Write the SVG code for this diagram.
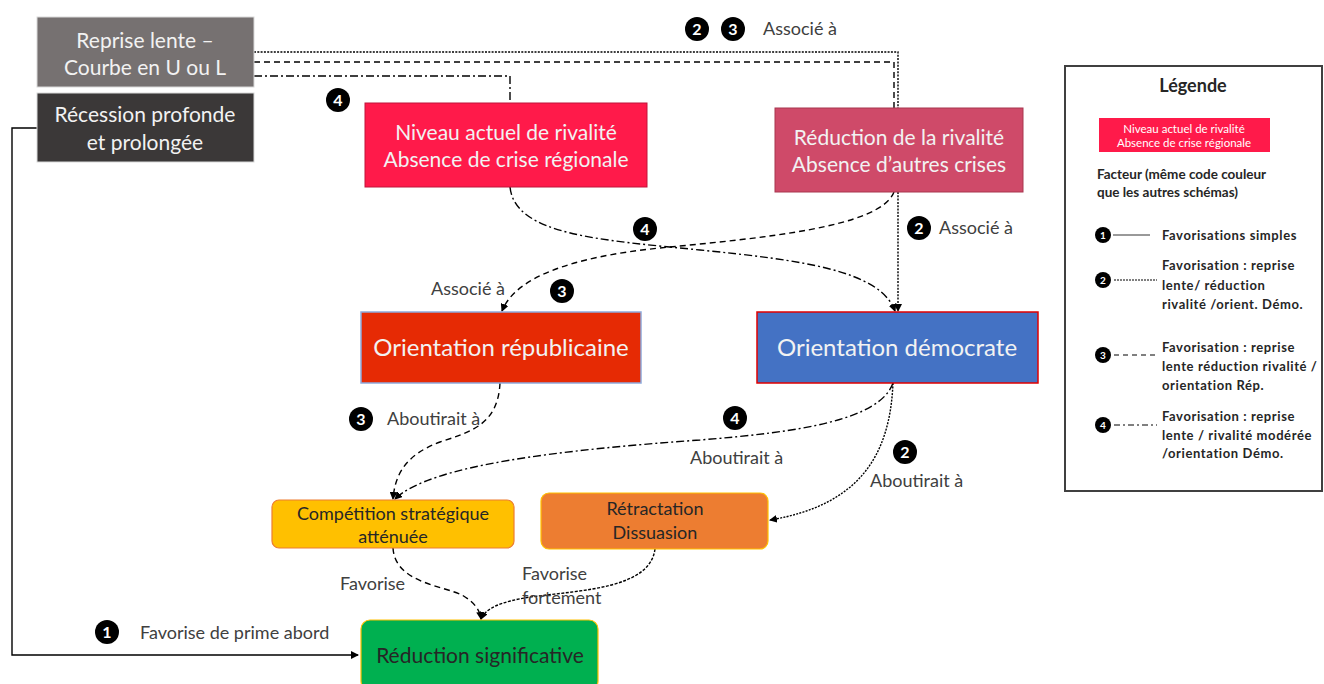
<svg xmlns="http://www.w3.org/2000/svg" width="1324" height="684" viewBox="0 0 1324 684">
<defs>
<marker id="arr" markerWidth="8" markerHeight="8" refX="7" refY="4" orient="auto" markerUnits="userSpaceOnUse">
<path d="M0,0 L8,4 L0,8 z" fill="#000"/>
</marker>
<style>
text{font-family:Lato,"Open Sans","Liberation Sans",sans-serif}
.nt{font-size:21px;fill:#f2f2f2;text-anchor:middle}
.dt{font-size:18px;fill:#262626;text-anchor:middle}
.lb{font-size:18px;fill:#404040}
.bd{font-size:16px;font-weight:bold;fill:#fff;text-anchor:middle}
.lg{font-size:13px;font-weight:bold;fill:#262626;letter-spacing:0.6px}
.lc{font-size:10px;font-weight:bold;fill:#fff;text-anchor:middle}
.c{stroke:#000;stroke-width:1.4;fill:none}
.t2{stroke-dasharray:2 1.3}
.t3{stroke-dasharray:6 4}
.t4{stroke-dasharray:8 3 2 3}
</style>
</defs>
<rect width="1324" height="684" fill="#fff"/>

<g id="connectors">
<path class="c" d="M37,128 H12 V655 H358" marker-end="url(#arr)"/>
<path class="c t2" d="M254,52 H898 V108"/>
<path class="c t3" d="M254,62 H894 V108"/>
<path class="c t4" d="M254,76 H510 V103"/>
<path class="c t4" d="M510,187 C515,235 600,240 700,250 C800,260 880,270 895,311" marker-end="url(#arr)"/>
<path class="c t3" d="M894,192 C880,228 760,238 660,248 C570,257 515,278 502,311" marker-end="url(#arr)"/>
<path class="c t2" d="M898,192 V311" marker-end="url(#arr)"/>
<path class="c t3" d="M500,383 C498,425 470,432 440,442 C405,455 395,475 393,499" marker-end="url(#arr)"/>
<path class="c t4" d="M893,383 C880,420 800,432 700,440 C560,450 430,465 395,499" marker-end="url(#arr)"/>
<path class="c t2" d="M893,383 C890,455 860,505 770,520" marker-end="url(#arr)"/>
<path class="c t3" d="M393,548 C395,582 440,585 462,595 C474,602 480,610 481,619" marker-end="url(#arr)"/>
<path class="c" style="stroke-dasharray:3 1.5" d="M655,549 C650,588 585,590 530,597 C500,602 486,608 481,619" marker-end="url(#arr)"/>
</g>

<g id="labels">
<circle cx="697" cy="29" r="12" fill="#000"/><text class="bd" x="697" y="35">2</text>
<circle cx="733" cy="29" r="12" fill="#000"/><text class="bd" x="733" y="35">3</text>
<text class="lb" x="763" y="35">Associé à</text>
<circle cx="338" cy="100" r="12" fill="#000"/><text class="bd" x="338" y="106">4</text>
<circle cx="645" cy="229" r="12" fill="#000"/><text class="bd" x="645" y="235">4</text>
<circle cx="919" cy="228" r="12" fill="#000"/><text class="bd" x="919" y="234">2</text>
<text class="lb" x="939" y="234">Associé à</text>
<circle cx="562" cy="291" r="12" fill="#000"/><text class="bd" x="562" y="297">3</text>
<text class="lb" x="431" y="295">Associé à</text>
<circle cx="361" cy="419" r="12" fill="#000"/><text class="bd" x="361" y="425">3</text>
<text class="lb" x="387" y="425">Aboutirait à</text>
<circle cx="735" cy="418" r="12" fill="#000"/><text class="bd" x="735" y="424">4</text>
<text class="lb" x="690" y="464">Aboutirait à</text>
<circle cx="905" cy="452" r="12" fill="#000"/><text class="bd" x="905" y="458">2</text>
<text class="lb" x="870" y="487">Aboutirait à</text>
<text class="lb" x="340" y="590">Favorise</text>
<text class="lb" x="522" y="580">Favorise</text>
<text class="lb" x="522" y="604">fortement</text>
<circle cx="107" cy="632" r="12" fill="#000"/><text class="bd" x="107" y="638">1</text>
<text class="lb" x="140" y="639">Favorise de prime abord</text>
</g>

<g id="reprise">
<rect x="37" y="17" width="217" height="70" fill="#767171" stroke="#d9d9d9" stroke-width="1"/>
<text class="nt" x="145" y="48">Reprise lente –</text>
<text class="nt" x="145" y="75">Courbe en U ou L</text>
</g>
<g id="recession">
<rect x="37" y="93" width="217" height="69" fill="#3b3838" stroke="#d9d9d9" stroke-width="1"/>
<text class="nt" x="145" y="122">Récession profonde</text>
<text class="nt" x="145" y="150">et prolongée</text>
</g>
<g id="niveau">
<rect x="365" y="103" width="282" height="84" fill="#ff1a4a" stroke="#c0143a" stroke-width="1"/>
<text class="nt" x="506" y="140">Niveau actuel de rivalité</text>
<text class="nt" x="506" y="167">Absence de crise régionale</text>
</g>
<g id="reduction-rivalite">
<rect x="775" y="108" width="248" height="84" fill="#cf4a69" stroke="#a8364f" stroke-width="1"/>
<text class="nt" x="899" y="145">Réduction de la rivalité</text>
<text class="nt" x="899" y="172">Absence d’autres crises</text>
</g>
<g id="republicaine">
<rect x="361" y="312" width="280" height="71" fill="#e62a04" stroke="#8faadc" stroke-width="1.5"/>
<text class="nt" x="501" y="356" style="font-size:24px">Orientation républicaine</text>
</g>
<g id="democrate">
<rect x="757" y="312" width="281" height="71" fill="#4472c4" stroke="#e00000" stroke-width="1.5"/>
<text class="nt" x="897" y="356" style="font-size:24px">Orientation démocrate</text>
</g>
<g id="competition">
<rect x="272" y="500" width="242" height="48" rx="7" fill="#ffc000" stroke="#ed7d31" stroke-width="1.2"/>
<text class="dt" x="393" y="520">Compétition  stratégique</text>
<text class="dt" x="393" y="543">atténuée</text>
</g>
<g id="retractation">
<rect x="541" y="493" width="227" height="56" rx="8" fill="#ed7d31" stroke="#ffc000" stroke-width="1.2"/>
<text class="dt" x="655" y="515">Rétractation</text>
<text class="dt" x="655" y="539">Dissuasion</text>
</g>
<g id="reduction-significative">
<rect x="361" y="620" width="237" height="70" rx="9" fill="#00b050" stroke="#ffc000" stroke-width="1.2"/>
<text class="dt" x="480" y="663" style="font-size:21px">Réduction significative</text>
</g>

<g id="legende">
<rect x="1065" y="66" width="257" height="425" fill="#fff" stroke="#404040" stroke-width="2"/>
<text x="1193" y="92" style="font-size:18px;font-weight:bold;fill:#262626;text-anchor:middle">Légende</text>
<rect x="1099" y="118" width="171" height="34" fill="#ff1a4a"/>
<text x="1184" y="133" style="font-size:11.5px;fill:#fff;text-anchor:middle">Niveau actuel de rivalité</text>
<text x="1184" y="147" style="font-size:11.5px;fill:#fff;text-anchor:middle">Absence de crise régionale</text>
<text x="1097" y="179" style="font-size:13.5px;font-weight:bold;fill:#262626">Facteur (même code couleur</text>
<text x="1097" y="197" style="font-size:13.5px;font-weight:bold;fill:#262626">que les autres schémas)</text>
<circle cx="1103" cy="235" r="8" fill="#000"/><text class="lc" x="1103" y="239">1</text>
<line x1="1113" y1="235" x2="1150" y2="235" stroke="#000" stroke-width="0.8"/>
<text class="lg" x="1162" y="240">Favorisations  simples</text>
<circle cx="1103" cy="280" r="8" fill="#000"/><text class="lc" x="1103" y="284">2</text>
<line x1="1114" y1="280" x2="1157" y2="280" stroke="#000" stroke-width="1" stroke-dasharray="2 1"/>
<text class="lg" x="1162" y="270">Favorisation : reprise</text>
<text class="lg" x="1162" y="290">lente/ réduction</text>
<text class="lg" x="1162" y="309">rivalité  /orient. Démo.</text>
<circle cx="1103" cy="355" r="8" fill="#000"/><text class="lc" x="1103" y="359">3</text>
<line x1="1114" y1="355" x2="1157" y2="355" stroke="#000" stroke-width="1" stroke-dasharray="5 4"/>
<text class="lg" x="1162" y="352">Favorisation : reprise</text>
<text class="lg" x="1162" y="371">lente réduction rivalité  /</text>
<text class="lg" x="1162" y="390">orientation Rép.</text>
<circle cx="1103" cy="425" r="8" fill="#000"/><text class="lc" x="1103" y="429">4</text>
<line x1="1114" y1="425" x2="1157" y2="425" stroke="#000" stroke-width="1" stroke-dasharray="6 3 2 3"/>
<text class="lg" x="1162" y="421">Favorisation : reprise</text>
<text class="lg" x="1162" y="440">lente / rivalité  modérée</text>
<text class="lg" x="1162" y="458">/orientation Démo.</text>
</g>
</svg>
